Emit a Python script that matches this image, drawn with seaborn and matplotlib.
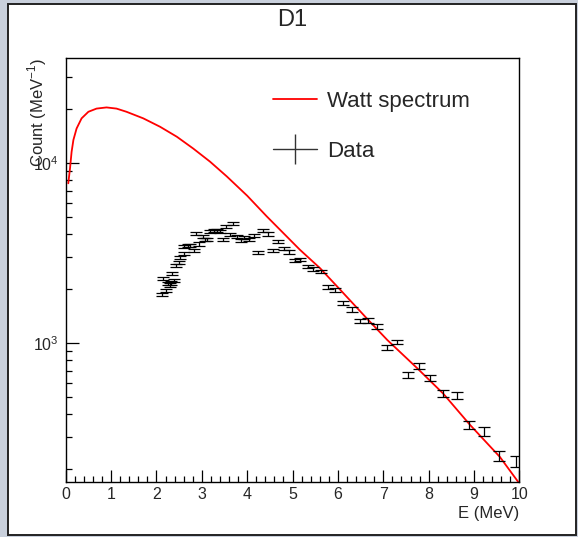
import matplotlib
matplotlib.use("Agg")
import matplotlib.pyplot as plt
import matplotlib.ticker as mticker
from matplotlib.lines import Line2D
from matplotlib.legend_handler import HandlerTuple
from matplotlib.patches import Rectangle
import seaborn as sns

# Watt spectrum curve (E in MeV, counts per MeV)
watt_e = [0.057, 0.095, 0.13, 0.17, 0.24, 0.35, 0.50, 0.68, 0.90, 1.12, 1.34,
          1.71, 2.08, 2.45, 2.81, 3.18, 3.55, 4.00, 4.43, 5.16, 5.61, 6.10,
          6.67, 7.09, 7.74, 8.32, 8.91, 9.57, 9.97, 10.0]
watt_n = [7690, 9310, 11500, 13400, 15500, 17650, 19200, 20000, 20300, 20000, 19200,
          17650, 15850, 13950, 12000, 10150, 8400, 6560, 5040, 3290, 2590, 1910,
          1337, 1035, 725, 522, 350, 232, 169, 165]

# measured points
data_e = [2.13, 2.15, 2.22, 2.25, 2.29, 2.33, 2.35, 2.39, 2.44, 2.49, 2.53, 2.60,
          2.61, 2.69, 2.74, 2.83, 2.88, 2.94, 3.02, 3.06, 3.12, 3.18, 3.26, 3.34,
          3.41, 3.47, 3.53, 3.63, 3.69, 3.77, 3.87, 3.94, 4.03, 4.14, 4.24, 4.34,
          4.46, 4.56, 4.68, 4.81, 4.93, 5.05, 5.17, 5.33, 5.45, 5.62, 5.78, 5.94,
          6.12, 6.31, 6.49, 6.67, 6.87, 7.08, 7.31, 7.54, 7.78, 8.04, 8.32, 8.62,
          8.90, 9.23, 9.55, 9.92]
data_n = [1860, 2280, 1950, 2130, 2090, 2150, 2430, 2220, 2690, 2800, 2970, 3130,
          3440, 3490, 3490, 3240, 4070, 3540, 3890, 3760, 3730, 4160, 4220, 4200,
          4160, 3760, 4410, 3980, 4600, 3890, 3680, 3850, 3760, 3930, 3180, 4220,
          4020, 3270, 3650, 3340, 3200, 2870, 2890, 2660, 2570, 2490, 2040, 1970,
          1670, 1530, 1320, 1330, 1230, 945, 1010, 665, 745, 637, 523, 512,
          349, 323, 235, 220]
data_err = [40, 48, 42, 45, 45, 46, 50, 47, 55, 57, 60, 63,
            68, 69, 69, 65, 80, 70, 76, 74, 74, 82, 83, 83,
            82, 75, 87, 79, 90, 77, 73, 76, 75, 78, 66, 84,
            80, 68, 75, 70, 68, 62, 62, 58, 57, 56, 48, 47,
            42, 40, 36, 36, 35, 30, 31, 25, 27, 25, 23, 22,
            19, 18, 15, 15]

sns.set_theme(style="ticks")
plt.rcParams["font.family"] = ["Liberation Sans", "DejaVu Sans"]
plt.rcParams["mathtext.fontset"] = "custom"
plt.rcParams["mathtext.rm"] = "Liberation Sans"

W, H = 578, 537
fig = plt.figure(figsize=(W / 100, H / 100), dpi=100, facecolor="#c9d0dc")
# ROOT canvas frame, behind the axes
canvas = Rectangle((8 / W, 1 - 535 / H), 568 / W, 531 / H, transform=fig.transFigure,
                   facecolor="white", edgecolor="#222222", linewidth=1.4, zorder=-5)
fig.add_artist(canvas)

ax = fig.add_axes([65.7 / W, 1 - 481.9 / H, 453.7 / W, 424.3 / H])
ax.set_zorder(2)
ax.set_facecolor("white")

sns.lineplot(x=watt_e, y=watt_n, color="red", linewidth=1.3, ax=ax, sort=False)
ax.errorbar(data_e, data_n, yerr=data_err, fmt="none", ecolor="black",
            elinewidth=0.9, capsize=4.3, capthick=0.9)

ax.set_yscale("log")
ax.set_xlim(0, 10)
ax.set_ylim(168.6, 38400)

ax.xaxis.set_major_locator(mticker.MultipleLocator(1))
ax.xaxis.set_minor_locator(mticker.MultipleLocator(0.2))
ax.yaxis.set_major_locator(mticker.LogLocator(base=10))
ax.yaxis.set_minor_locator(mticker.LogLocator(base=10, subs=range(2, 10)))
ax.yaxis.set_minor_formatter(mticker.NullFormatter())

ax.tick_params(axis="both", which="both", direction="in", top=False, right=False,
               color="black", labelsize=11.5)
ax.tick_params(axis="x", which="major", length=9, width=0.9, pad=4)
ax.tick_params(axis="x", which="minor", length=4.5, width=0.9)
ax.tick_params(axis="y", which="major", length=9, width=0.9, pad=5)
ax.tick_params(axis="y", which="minor", length=4.5, width=0.9)
for s in ax.spines.values():
    s.set_linewidth(1.0)
    s.set_color("black")

ax.set_xlabel("E (MeV)", fontsize=12, loc="right")
ax.xaxis.set_label_coords(1.0, -0.057)
ax.xaxis.label.set_va("top")
# ROOT puts the axis title at the top end, over the 10^4 label
ax.set_ylabel(r"Count (MeV$^{\mathregular{-1}}$)", fontsize=12, loc="top")
ax.yaxis.set_label_coords(-0.036, 1.0)

fig.text(0.506, 1 - 20 / H, "D1", ha="center", va="center", fontsize=17)

watt_h = Line2D([], [], color="red", linewidth=1.3)
cross_h = Line2D([], [], color="#333333", linewidth=1.0)
bar_h = Line2D([], [], color="#333333", marker="|", markersize=22, markeredgewidth=1.0,
               linestyle="none")
ax.legend([watt_h, (cross_h, bar_h)], ["Watt spectrum", "Data"],
          handler_map={tuple: HandlerTuple(ndivide=1)},
          loc="upper left", bbox_to_anchor=(0.458, 0.921), frameon=False,
          fontsize=16, handlelength=1.95, handletextpad=0.45, labelspacing=1.29,
          borderpad=0, borderaxespad=0)

fig.savefig("out.png", dpi=100, facecolor=fig.get_facecolor())
